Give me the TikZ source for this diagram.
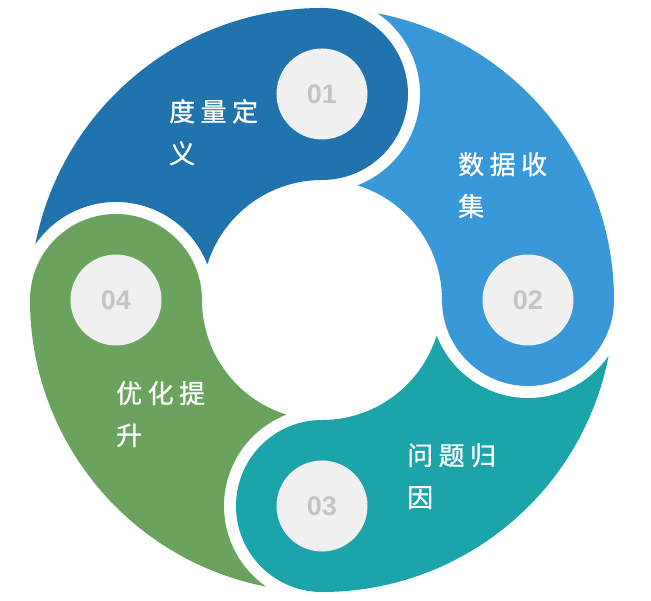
\documentclass[tikz,border=0pt]{standalone}
\usepackage{fontspec}
\setmainfont{Liberation Sans}
\newfontfamily\cjkfont[LetterSpace=21,FakeBold=0.9]{Noto Sans CJK SC}
\definecolor{segone}{RGB}{33,115,173}
\definecolor{segtwo}{RGB}{56,152,216}
\definecolor{segthree}{RGB}{27,164,170}
\definecolor{segfour}{RGB}{106,164,92}
\definecolor{circgray}{RGB}{240,240,240}
\definecolor{numgray}{RGB}{196,196,192}

\begin{document}
\begin{tikzpicture}[x=1pt,y=1pt,
    num/.style={circle,fill=circgray,minimum size=91pt,inner sep=0pt,text=numgray,
      font=\fontsize{27}{27}\selectfont\bfseries},
    lbl/.style={anchor=north west,inner sep=0pt,align=left,text=white,
      font=\cjkfont\fontsize{26}{42}\selectfont}]
      \useasboundingbox (-322,-301) rectangle (329,300);

      \fill[segone] (169:292) arc[start angle=169,end angle=90,radius=292]
        arc[start angle=90,end angle=-90,radius=86]
        arc[start angle=90,end angle=162.8,radius=120]
        arc[start angle=21.2,end angle=145.4,radius=98] -- cycle;
      \fill[segtwo,rotate=-90] (169:292) arc[start angle=169,end angle=90,radius=292]
        arc[start angle=90,end angle=-90,radius=86]
        arc[start angle=90,end angle=162.8,radius=120]
        arc[start angle=21.2,end angle=145.4,radius=98] -- cycle;
      \fill[segthree,rotate=-180] (169:292) arc[start angle=169,end angle=90,radius=292]
        arc[start angle=90,end angle=-90,radius=86]
        arc[start angle=90,end angle=162.8,radius=120]
        arc[start angle=21.2,end angle=145.4,radius=98] -- cycle;
      \fill[segfour,rotate=-270] (169:292) arc[start angle=169,end angle=90,radius=292]
        arc[start angle=90,end angle=-90,radius=86]
        arc[start angle=90,end angle=162.8,radius=120]
        arc[start angle=21.2,end angle=145.4,radius=98] -- cycle;

      \node[num] (n01) at (90:206) {01};
      \node[num] (n02) at (0:206) {02};
      \node[num] (n03) at (-90:206) {03};
      \node[num] (n04) at (180:206) {04};

      \node[lbl] (define) at (-153,201) {度量定\\义};
      \node[lbl] (collect) at (136,148) {数据收\\集};
      \node[lbl] (cause) at (85,-143) {问题归\\因};
      \node[lbl] (improve) at (-206,-81) {优化提\\升};
    \end{tikzpicture}
\end{document}
